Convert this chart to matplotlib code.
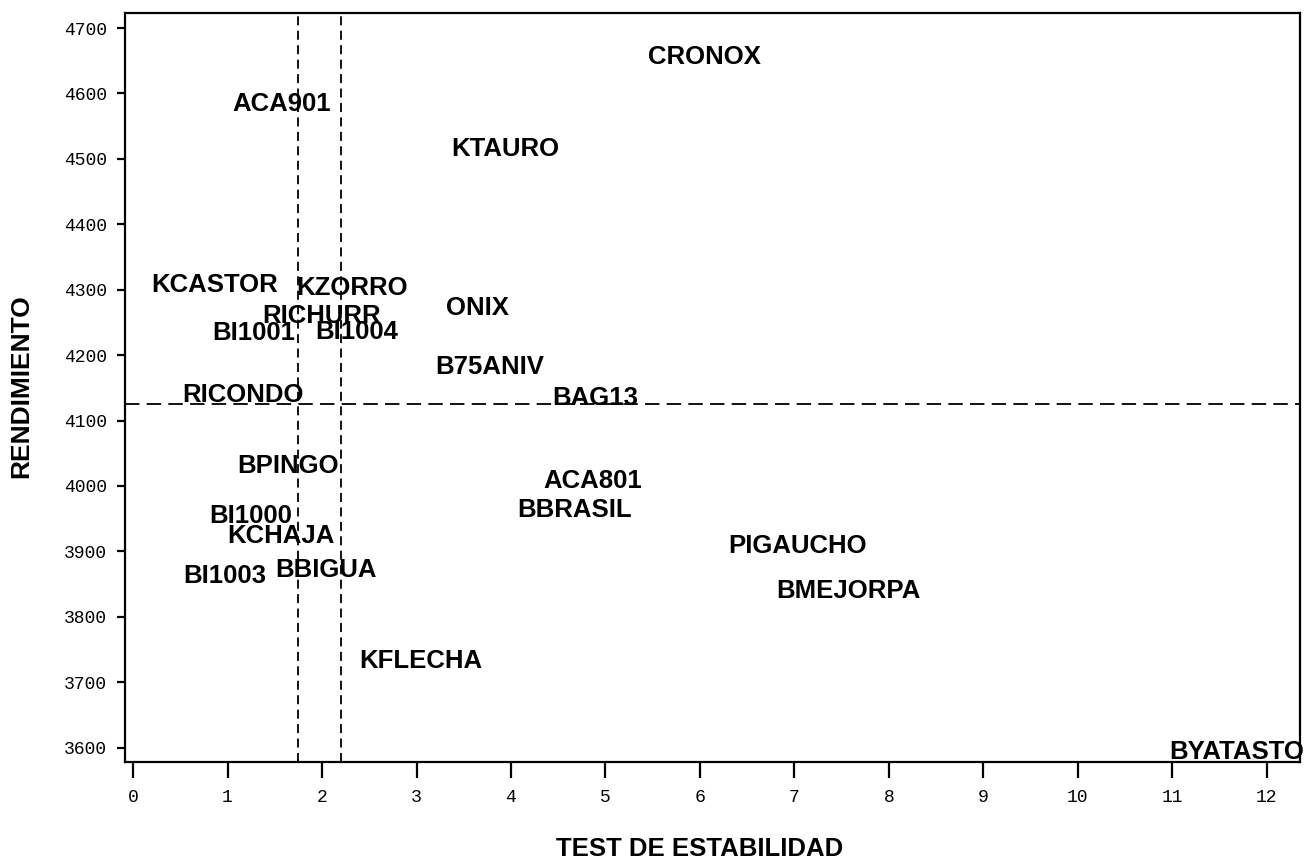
import numpy as np
import matplotlib as mpl
mpl.use('Agg')
from matplotlib import pyplot as plt

# variety names, stability test (x) and yield (y)
names = ['CRONOX', 'ACA901', 'KTAURO', 'KCASTOR', 'KZORRO', 'ONIX', 'RICHURR',
         'BI1001', 'BI1004', 'B75ANIV', 'RICONDO', 'BAG13', 'BPINGO', 'ACA801',
         'BBRASIL', 'BI1000', 'KCHAJA', 'BI1003', 'BBIGUA', 'KFLECHA',
         'PIGAUCHO', 'BMEJORPA', 'BYATASTO']
estab = [6.05, 1.57, 3.94, 0.86, 2.32, 3.65, 2.00,
         1.28, 2.37, 3.77, 1.16, 4.89, 1.64, 4.86,
         4.67, 1.24, 1.57, 0.97, 2.04, 3.05,
         7.03, 7.57, 11.68]
rend = [4655, 4584, 4515, 4307, 4303, 4272, 4260,
        4234, 4236, 4182, 4139, 4135, 4031, 4008,
        3963, 3954, 3924, 3862, 3872, 3733,
        3908, 3840, 3593]

# reference lines
vref = [1.75, 2.2]
href = 4125

xticks = list(range(0, 13))
yticks = list(range(3600, 4800, 100))

fs = 18.5
lab_font = 'Liberation Sans'
tick_font = 'Liberation Mono'

fig = plt.figure(figsize=(13.06, 8.61), dpi=100)
ax = fig.add_axes([125 / 1306, 1 - 762 / 861, 1175 / 1306, (762 - 13) / 861])

for n, x, y in zip(names, estab, rend):
    ax.text(x, y, n, ha='center', va='center', fontsize=fs,
            fontweight='bold', family=lab_font, color='black', zorder=3)

for v in vref:
    ax.axvline(v, color='black', lw=1.3, ls=(0, (5, 3)), zorder=2)
ax.axhline(href, color='black', lw=1.3, ls=(0, (8, 4)), zorder=2)

ax.set_xlim(-0.085, 12.35)
ax.set_ylim(3578, 4723)
ax.set_xticks(xticks)
ax.set_yticks(yticks)
ax.set_xticklabels([str(t) for t in xticks], family=tick_font, fontsize=13)
ax.set_yticklabels([str(t) for t in yticks], family=tick_font, fontsize=13)

ax.tick_params(axis='x', direction='out', length=11.5, width=1.6, pad=8)
ax.tick_params(axis='y', direction='out', length=6, width=1.6, pad=7)
for s in ax.spines.values():
    s.set_linewidth(1.6)

ax.set_xlabel('TEST DE ESTABILIDAD', fontsize=18.5, fontweight='bold', family=lab_font)
ax.set_ylabel('RENDIMIENTO', fontsize=19, fontweight='bold', family=lab_font)
ax.xaxis.set_label_coords(0.489, -0.1)
ax.yaxis.set_label_coords(-0.078, 0.502)

fig.savefig('out.png', dpi=100, facecolor='white')
